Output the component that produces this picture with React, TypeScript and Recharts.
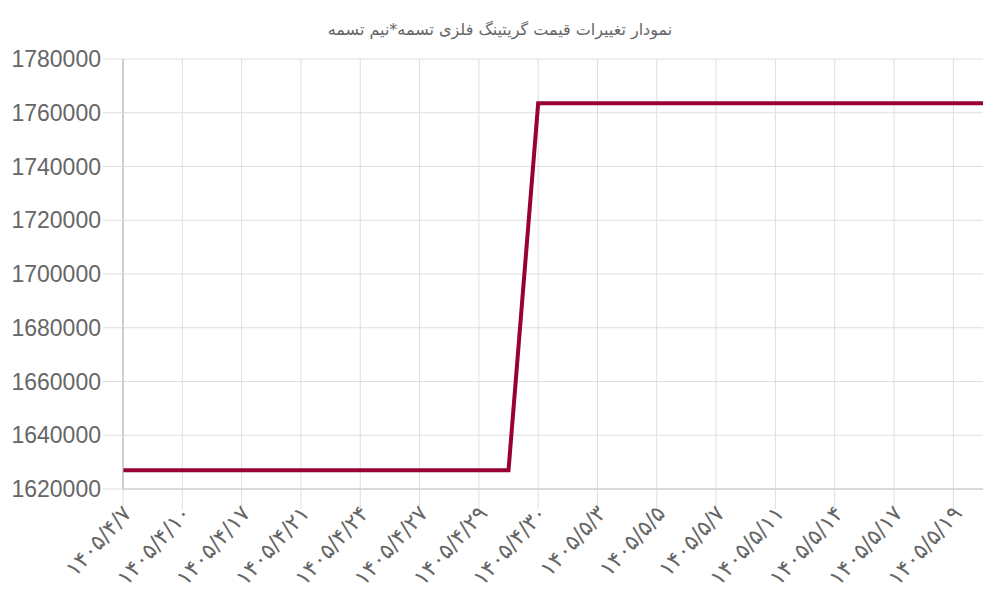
import { CartesianGrid, Line, LineChart, XAxis, YAxis } from "recharts"

const dates = [
  "۱۴۰۵/۴/۷", "۱۴۰۵/۴/۸", "۱۴۰۵/۴/۱۰", "۱۴۰۵/۴/۱۴", "۱۴۰۵/۴/۱۷",
  "۱۴۰۵/۴/۱۸", "۱۴۰۵/۴/۲۱", "۱۴۰۵/۴/۲۲", "۱۴۰۵/۴/۲۴", "۱۴۰۵/۴/۲۵",
  "۱۴۰۵/۴/۲۷", "۱۴۰۵/۴/۲۸", "۱۴۰۵/۴/۲۹", "۱۴۰۵/۴/۲۹", "۱۴۰۵/۴/۳۰",
  "۱۴۰۵/۵/۱", "۱۴۰۵/۵/۳", "۱۴۰۵/۵/۴", "۱۴۰۵/۵/۵", "۱۴۰۵/۵/۶",
  "۱۴۰۵/۵/۷", "۱۴۰۵/۵/۱۰", "۱۴۰۵/۵/۱۱", "۱۴۰۵/۵/۱۲", "۱۴۰۵/۵/۱۴",
  "۱۴۰۵/۵/۱۵", "۱۴۰۵/۵/۱۷", "۱۴۰۵/۵/۱۸", "۱۴۰۵/۵/۱۹", "۱۴۰۵/۵/۲۰",
]

const prices = [
  1627000, 1627000, 1627000, 1627000, 1627000,
  1627000, 1627000, 1627000, 1627000, 1627000,
  1627000, 1627000, 1627000, 1627000, 1763500,
  1763500, 1763500, 1763500, 1763500, 1763500,
  1763500, 1763500, 1763500, 1763500, 1763500,
  1763500, 1763500, 1763500, 1763500, 1763500,
]

const yTicks = [1620000, 1640000, 1660000, 1680000, 1700000, 1720000, 1740000, 1760000, 1780000]

const title = "نمودار تغییرات قیمت گریتینگ فلزی تسمه*نیم تسمه"

const data = dates.map((date, i) => ({ date, price: prices[i] }))

const DateTick = (props: any) => {
  const { x, y, payload } = props
  return (
    <g transform={`translate(${x + 4},${y - 2})`}>
      <text
        textAnchor="end"
        transform="rotate(-48)"
        dy="0.35em"
        fontSize={22}
        fill="#666"
        fontFamily="'DejaVu Sans', sans-serif"
      >
        {payload.value}
      </text>
    </g>
  )
}

export default function App() {
  return (
    <div style={{ position: "absolute", left: 0, top: 0, width: 1000, height: 600, background: "#fff" }}>
      <div
        style={{
          position: "absolute",
          top: 20,
          left: 0,
          width: 1000,
          textAlign: "center",
          fontFamily: "'DejaVu Sans', sans-serif",
          fontSize: 16,
          color: "#666",
          direction: "rtl",
        }}
      >
        {title}
      </div>
      <LineChart width={1000} height={600} data={data} margin={{ top: 59, right: 17, left: 0, bottom: 0 }}>
        <CartesianGrid stroke="#dedede" strokeWidth={1} syncWithTicks />
        <XAxis
          dataKey="date"
          interval={1}
          height={111}
          tickSize={20}
          tickLine={{ stroke: "#dedede" }}
          axisLine={{ stroke: "#c4c4c4" }}
          tick={<DateTick />}
        />
        <YAxis
          width={123}
          domain={[1620000, 1780000]}
          ticks={yTicks}
          tickSize={20}
          tickLine={{ stroke: "#dedede" }}
          axisLine={{ stroke: "#adadad" }}
          tick={{ fill: "#666", fontSize: 23, fontFamily: "'Liberation Sans', Arial, sans-serif" }}
        />
        <Line
          type="linear"
          dataKey="price"
          stroke="#990033"
          strokeWidth={4}
          dot={false}
          isAnimationActive={false}
        />
      </LineChart>
    </div>
  )
}
